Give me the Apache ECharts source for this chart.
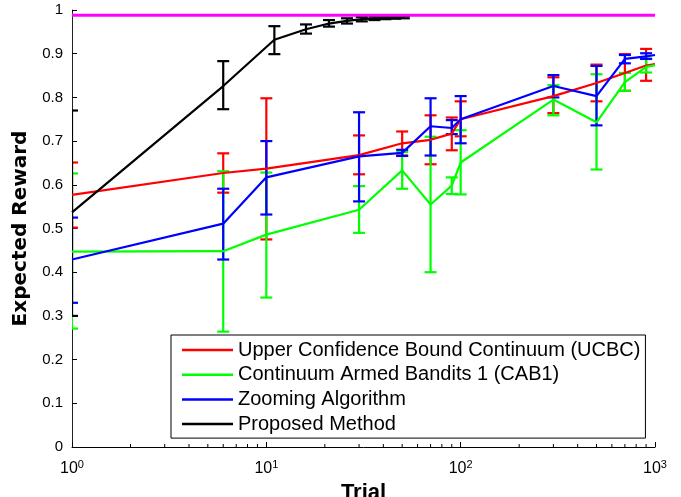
<!DOCTYPE html>
<html>
<head>
<meta charset="utf-8">
<script src="https://cdn.jsdelivr.net/npm/echarts@6/dist/echarts.min.js"></script>
<style>
  html, body { margin: 0; padding: 0; background: #fff; }
  #chart { width: 681px; height: 497px; }
</style>
</head>
<body>
<div id="chart"></div>
<script>
// trials where the three baselines were measured
const trials = [1, 6, 10, 30, 50, 70, 90, 100, 300, 500, 700, 900, 1000];

const ucbcMean = [0.577, 0.627, 0.637, 0.668, 0.695, 0.703, 0.717, 0.750, 0.803, 0.833, 0.856, 0.873, 0.876];
const ucbcLow  = [0.502, 0.582, 0.475, 0.624, 0.667, 0.647, 0.679, 0.711, 0.764, 0.791, 0.815, 0.838, null];
const ucbcHigh = [0.651, 0.672, 0.798, 0.713, 0.722, 0.759, 0.754, 0.791, 0.846, 0.875, 0.899, 0.911, null];

const cabMean = [0.447, 0.448, 0.486, 0.543, 0.633, 0.555, 0.598, 0.651, 0.795, 0.743, 0.835, 0.870, 0.874];
const cabLow  = [0.271, 0.264, 0.342, 0.490, 0.591, 0.400, 0.579, 0.578, 0.759, 0.635, 0.815, 0.857, null];
const cabHigh = [0.626, 0.631, 0.628, 0.597, 0.675, 0.710, 0.617, 0.725, 0.828, 0.853, 0.856, 0.889, null];

const zoomMean = [0.429, 0.511, 0.617, 0.665, 0.673, 0.734, 0.730, 0.750, 0.826, 0.803, 0.888, 0.894, 0.897];
const zoomLow  = [0.330, 0.429, 0.532, 0.562, 0.666, 0.667, 0.716, 0.695, 0.800, 0.736, 0.878, 0.888, null];
const zoomHigh = [0.525, 0.591, 0.700, 0.766, 0.680, 0.798, 0.748, 0.803, 0.851, 0.872, 0.897, 0.901, null];

// proposed method, sampled every 5 trials
const propTrials = [1, 6, 11, 16, 21, 26, 31, 36, 41, 46, 51];
const propMean = [0.537, 0.826, 0.932, 0.956, 0.969, 0.975, 0.979, 0.981, 0.982, 0.983, 0.984];
const propLow  = [0.300, 0.773, 0.899, 0.946, 0.962, 0.969, 0.974, 0.977, 0.979, 0.980, 0.981];
const propHigh = [0.770, 0.883, 0.963, 0.967, 0.977, 0.981, 0.984, 0.985, 0.985, 0.986, 0.986];

// optimal reward (magenta reference line)
const optimalX = [1, 1000];
const optimalY = [0.988, 0.988];

const minorTicks = [2, 3, 4, 5, 6, 7, 8, 9, 20, 30, 40, 50, 60, 70, 80, 90,
  200, 300, 400, 500, 600, 700, 800, 900];

const legendNames = ['Upper Confidence Bound Continuum (UCBC)', 'Continuum Armed Bandits 1 (CAB1)',
  'Zooming Algorithm', 'Proposed Method'];

const FONT = 'Liberation Sans';
const LW = 2.2;

function lineSeries(name, color, xs, ys, width) {
  return {
    name: name,
    type: 'line',
    symbol: 'none',
    data: xs.map((x, i) => [x, ys[i]]),
    lineStyle: { color: color, width: width || LW },
    itemStyle: { color: color },
    emphasis: { disabled: true }
  };
}

function errSeries(color, xs, lo, hi) {
  const data = [];
  xs.forEach((x, i) => {
    if (lo[i] != null) data.push([x, lo[i], hi[i]]);
  });
  return {
    type: 'custom',
    silent: true,
    clip: true,
    data: data,
    encode: { x: 0, y: [1, 2] },
    renderItem: function (params, api) {
      const x = api.value(0);
      const a = api.coord([x, api.value(1)]);
      const b = api.coord([x, api.value(2)]);
      const w = 6;
      const style = { stroke: color, lineWidth: LW };
      return {
        type: 'group',
        children: [
          { type: 'line', shape: { x1: a[0], y1: a[1], x2: b[0], y2: b[1] }, style: style },
          { type: 'line', shape: { x1: a[0] - w, y1: a[1], x2: a[0] + w, y2: a[1] }, style: style },
          { type: 'line', shape: { x1: b[0] - w, y1: b[1], x2: b[0] + w, y2: b[1] }, style: style }
        ]
      };
    }
  };
}

const chart = echarts.init(document.getElementById('chart'));

const option = {
  animation: false,
  backgroundColor: '#fff',
  grid: { left: 72, right: 26, top: 10, bottom: 50, outerBoundsMode: 'none' },
  legend: {
    data: legendNames.map(n => ({ name: n, icon: 'rect' })),
    orient: 'vertical',
    left: 171,
    top: 335,
    backgroundColor: '#fff',
    borderColor: '#000',
    borderWidth: 1,
    borderRadius: 0,
    padding: [5, 5, 4, 11],
    itemWidth: 51,
    itemHeight: 2.5,
    itemGap: 4.7,
    selectedMode: false,
    textStyle: { fontFamily: FONT, fontSize: 20, color: '#000', lineHeight: 20 }
  },
  xAxis: {
    type: 'log',
    logBase: 10,
    min: 1,
    max: 1000,
    name: 'Trial',
    nameLocation: 'middle',
    nameGap: 31,
    nameTextStyle: { fontFamily: FONT, fontSize: 22, fontWeight: 'bold', color: '#000' },
    axisLine: { lineStyle: { color: '#000', width: 1 } },
    axisTick: { inside: true, length: 5, lineStyle: { color: '#000' } },
    splitLine: { show: false },
    axisLabel: {
      margin: 12,
      showMaxLabel: true,
      showMinLabel: true,
      formatter: function (v) {
        const e = Math.round(Math.log10(v));
        return '{b|10}{s|' + e + '}';
      },
      rich: {
        b: { fontFamily: FONT, fontSize: 16, color: '#000' },
        s: { fontFamily: FONT, fontSize: 11, color: '#000', padding: [0, 0, 9, 0] }
      }
    }
  },
  yAxis: {
    type: 'value',
    min: 0,
    max: 1,
    interval: 0.1,
    name: 'Expected Reward',
    nameLocation: 'middle',
    nameGap: 40,
    nameTextStyle: { fontFamily: 'DejaVu Sans', fontSize: 20, fontWeight: 'bold', color: '#000' },
    axisLine: { show: true, lineStyle: { color: '#222', width: 1 } },
    axisTick: { show: true, inside: true, length: 5, lineStyle: { color: '#000' } },
    splitLine: { show: false },
    axisLabel: {
      margin: 9,
      fontFamily: FONT,
      fontSize: 15,
      color: '#000',
      formatter: v => String(+v.toFixed(1))
    }
  },
  series: [
    {
      type: 'custom',
      silent: true,
      clip: false,
      data: minorTicks.map(v => [v]),
      encode: { x: 0 },
      renderItem: function (params, api) {
        const p = api.coord([api.value(0), 0]);
        return {
          type: 'line',
          shape: { x1: p[0], y1: p[1], x2: p[0], y2: p[1] - 3 },
          style: { stroke: '#000', lineWidth: 1 }
        };
      }
    },
    lineSeries(legendNames[0], '#ff0000', trials, ucbcMean),
    errSeries('#ff0000', trials, ucbcLow, ucbcHigh),
    lineSeries(legendNames[1], '#00ff00', trials, cabMean),
    errSeries('#00ff00', trials, cabLow, cabHigh),
    lineSeries(legendNames[2], '#0000ff', trials, zoomMean),
    errSeries('#0000ff', trials, zoomLow, zoomHigh),
    lineSeries(legendNames[3], '#000000', propTrials, propMean),
    errSeries('#000000', propTrials, propLow, propHigh),
    lineSeries('Optimal', '#ff00ff', optimalX, optimalY, 3)
  ]
};

chart.setOption(option);
</script>
</body>
</html>
